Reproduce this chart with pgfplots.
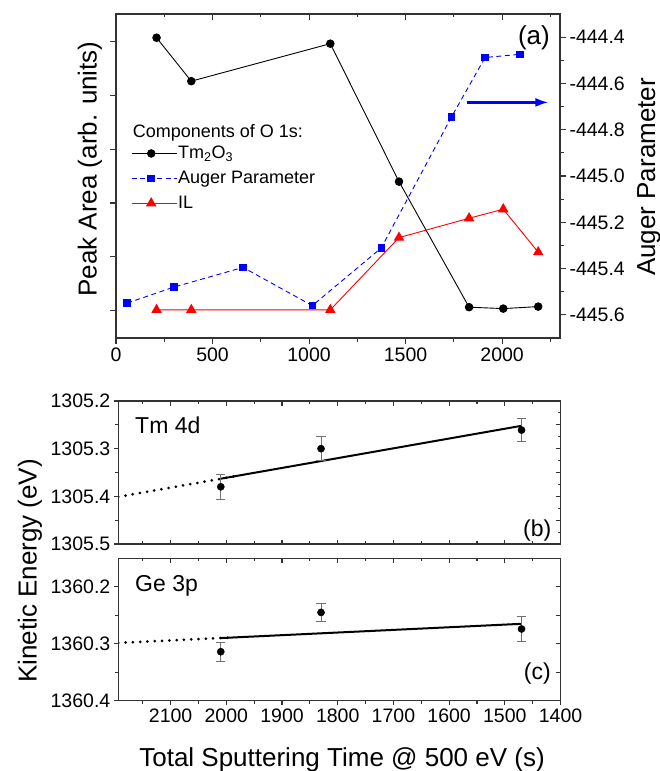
\documentclass[border=0pt]{standalone}
\usepackage{fontspec}
\setmainfont{Liberation Sans}
\usepackage{pgfplots}
\pgfplotsset{compat=1.18}
\usetikzlibrary{arrows.meta}

\definecolor{axgray}{HTML}{333333}
\definecolor{errgray}{HTML}{707070}

\tikzset{bigfont/.style={font=\fontsize{26bp}{30bp}\selectfont}}
\pgfplotsset{
  myaxis/.style={
    scale only axis,
    axis line style={axgray, line width=1.2bp},
    every tick/.style={axgray, line width=1.1bp},
    major tick length=6bp, minor tick length=3.5bp,
    tick label style={font=\fontsize{19.5bp}{23bp}\selectfont, text=black},
    /pgf/number format/assume math mode=true,
    /pgf/number format/1000 sep={},
  },
  onedec/.style={/pgf/number format/.cd, fixed, fixed zerofill, precision=1},
}

\begin{document}
\begin{tikzpicture}[x=1bp,y=1bp]
\path[use as bounding box] (0,0) rectangle (660,-771);

% ---------------- panel (a): left axis ----------------
\begin{axis}[myaxis,
  at={(116bp,-338bp)}, anchor=south west,
  width=444bp, height=324bp,
  xmin=0, xmax=2300, ymin=0.49, ymax=6.515,
  xtick={0,500,1000,1500,2000}, minor xtick={250,750,1250,1750,2250},
  ytick={1,2,3,4,5,6}, yticklabels={},
  xtick pos=left, ytick pos=left, tick align=outside,
  ylabel={Peak Area (arb. units)},
  every axis y label/.style={at={(axis description cs:-0.0435,0.5216)}, rotate=90, anchor=base, bigfont},
  legend style={draw=none, fill=none, font=\fontsize{18bp}{21bp}\selectfont,
    at={(axis description cs:0.034,0.595)}, anchor=north west,
    inner sep=0bp, row sep=9bp, nodes={inner sep=1bp}},
  legend cell align=left,
  legend image code/.code={\path (0bp,0bp) -- (45bp,0bp); \draw[mark repeat=2, mark phase=2, #1] plot coordinates {(0bp,0bp) (19.5bp,0bp) (39bp,0bp)};},
]
\addplot[black, line width=0.9bp, mark=*, mark size=3.8bp]
  coordinates {(210,6.074) (390,5.266) (1110,5.963) (1466,3.398) (1829,1.063) (2006,1.037) (2187,1.074)};
\addlegendentry{Tm\textsubscript{2}O\textsubscript{3}}
\addlegendimage{blue, line width=0.9bp, dash pattern=on 5bp off 3.5bp, mark=square*, mark size=3.3bp, mark options={solid}}
\addlegendentry{Auger Parameter}
\addplot[red, line width=0.9bp, mark=triangle*, mark size=5.2bp]
  coordinates {(210,1.013) (390,1.013) (1110,1.013) (1466,2.357) (1829,2.717) (2006,2.885) (2187,2.086)};
\addlegendentry{IL}
\end{axis}

% ---------------- panel (a): right axis (Auger parameter) ----------------
\begin{axis}[myaxis,
  at={(116bp,-338bp)}, anchor=south west,
  width=444bp, height=324bp,
  xmin=0, xmax=2300, ymin=-445.7, ymax=-444.3,
  axis x line=none, axis y line*=right,
  ytick={-445.6,-445.4,-445.2,-445.0,-444.8,-444.6,-444.4},
  minor ytick={-445.5,-445.3,-445.1,-444.9,-444.7,-444.5},
  tick align=outside,
  yticklabel style={onedec},
  ylabel={Auger Parameter},
  every axis y label/.style={at={(axis description cs:1.214,0.497)}, rotate=90, anchor=base, bigfont},
]
\addplot[blue, line width=0.9bp, dash pattern=on 5bp off 3.5bp, mark=square*, mark size=3.3bp, mark options={solid}]
  coordinates {(58,-445.549) (300,-445.480) (658,-445.395) (1017,-445.560) (1374,-445.311) (1737,-444.746) (1912,-444.488) (2094,-444.474)};
\draw[blue, line width=2.4bp, -{Latex[length=13bp,width=9bp]}] (axis cs:1816,-444.682) -- (axis cs:2240,-444.682);
\end{axis}

% ---------------- panel (a): top inward ticks ----------------
\begin{axis}[myaxis,
  at={(116bp,-338bp)}, anchor=south west,
  width=444bp, height=324bp,
  xmin=0, xmax=2300, ymin=0, ymax=1,
  axis y line=none, axis x line*=top,
  xtick={0,500,1000,1500,2000}, minor xtick={250,750,1250,1750,2250},
  xticklabels={}, tick align=inside,
]
\end{axis}

% ---------------- panel (b) ----------------
\begin{axis}[myaxis,
  at={(118.3bp,-544bp)}, anchor=south west,
  width=442.2bp, height=143bp,
  major tick length=4.5bp, minor tick length=3bp,
  xmin=1400, xmax=2194, x dir=reverse,
  ymin=1305.2, ymax=1305.5, y dir=reverse,
  xtick=\empty,
  ytick={1305.2,1305.3,1305.4,1305.5}, minor ytick={1305.25,1305.35,1305.45},
  ytick pos=left, tick align=outside,
  yticklabel style={onedec},
]
\addplot[black, line width=3bp, dash pattern=on 0bp off 7.3bp, line cap=round]
  coordinates {(2194,1305.401) (1985,1305.358)};
\addplot[black, line width=2bp]
  coordinates {(2010,1305.363) (1470,1305.252)};
\addplot[black, only marks, mark=*, mark size=3.6bp,
  error bars/.cd, y dir=both, y explicit,
  error bar style={errgray, line width=1bp},
  error mark options={errgray, line width=1bp, mark size=4.7bp, rotate=90}]
  coordinates {(2010,1305.380) +- (0,0.026) (1830,1305.300) +- (0,0.025) (1470,1305.261) +- (0,0.025)};
\end{axis}
\begin{axis}[myaxis,
  at={(118.3bp,-544bp)}, anchor=south west,
  width=442.2bp, height=143bp,
  major tick length=4.5bp, minor tick length=3bp,
  xmin=1400, xmax=2194, x dir=reverse,
  ymin=1305.2, ymax=1305.5, y dir=reverse,
  xtick={1400,1500,1600,1700,1800,1900,2000,2100}, minor xtick={1450,1550,1650,1750,1850,1950,2050,2150},
  xticklabels={}, xtick pos=both,
  ytick={1305.2,1305.25,1305.3,1305.35,1305.4,1305.45,1305.5},
  minor ytick={1305.225,1305.275,1305.325,1305.375,1305.425,1305.475},
  yticklabels={}, ytick pos=right, tick align=inside,
]
\end{axis}

% ---------------- panel (c) ----------------
\begin{axis}[myaxis,
  at={(118.3bp,-700.7bp)}, anchor=south west,
  width=442.2bp, height=142.4bp,
  major tick length=4.5bp, minor tick length=3bp,
  xmin=1400, xmax=2194, x dir=reverse,
  ymin=1360.15, ymax=1360.4, y dir=reverse,
  xtick={1400,1500,1600,1700,1800,1900,2000,2100}, minor xtick={1450,1550,1650,1750,1850,1950,2050,2150},
  xtick pos=left,
  ytick={1360.2,1360.3,1360.4}, minor ytick={1360.25,1360.35},
  ytick pos=left, tick align=outside,
  yticklabel style={onedec},
  xlabel={Total Sputtering Time @ 500 eV (s)},
  every axis x label/.style={at={(axis description cs:0.506,-0.4635)}, anchor=base, bigfont},
  ylabel={Kinetic Energy (eV)},
  every axis y label/.style={at={(axis description cs:-0.1845,0.911)}, rotate=90, anchor=base, bigfont},
]
\addplot[black, line width=3bp, dash pattern=on 0bp off 7.3bp, line cap=round]
  coordinates {(2194,1360.2985) (1990,1360.289)};
\addplot[black, line width=2bp]
  coordinates {(2010,1360.290) (1470,1360.265)};
\addplot[black, only marks, mark=*, mark size=3.6bp,
  error bars/.cd, y dir=both, y explicit,
  error bar style={errgray, line width=1bp},
  error mark options={errgray, line width=1bp, mark size=4.7bp, rotate=90}]
  coordinates {(2010,1360.314) +- (0,0.017) (1830,1360.245) +- (0,0.016) (1470,1360.274) +- (0,0.022)};
\end{axis}
\begin{axis}[myaxis,
  at={(118.3bp,-700.7bp)}, anchor=south west,
  width=442.2bp, height=142.4bp,
  major tick length=4.5bp, minor tick length=3bp,
  xmin=1400, xmax=2194, x dir=reverse,
  ymin=1360.15, ymax=1360.4, y dir=reverse,
  xtick={1400,1500,1600,1700,1800,1900,2000,2100}, minor xtick={1450,1550,1650,1750,1850,1950,2050,2150},
  xticklabels={}, xtick pos=right,
  ytick={1360.2,1360.25,1360.3,1360.35},
  yticklabels={}, ytick pos=right, tick align=inside,
]
\end{axis}

% ---------------- texts ----------------
\node[anchor=base west, inner sep=0, font=\fontsize{18bp}{21bp}\selectfont] at (132.7,-137.3) {Components of O 1s:};
\node[anchor=base east, inner sep=0, font=\fontsize{26bp}{30bp}\selectfont] at (550,-45) {(a)};
\node[anchor=base east, inner sep=0, font=\fontsize{23bp}{27bp}\selectfont] at (551.5,-536) {(b)};
\node[anchor=base east, inner sep=0, font=\fontsize{23bp}{27bp}\selectfont] at (551,-679) {(c)};
\node[anchor=base west, inner sep=0, font=\fontsize{23bp}{27bp}\selectfont] at (135,-433.3) {Tm 4d};
\node[anchor=base west, inner sep=0, font=\fontsize{23bp}{27bp}\selectfont] at (135,-591.7) {Ge 3p};
\end{tikzpicture}
\end{document}
